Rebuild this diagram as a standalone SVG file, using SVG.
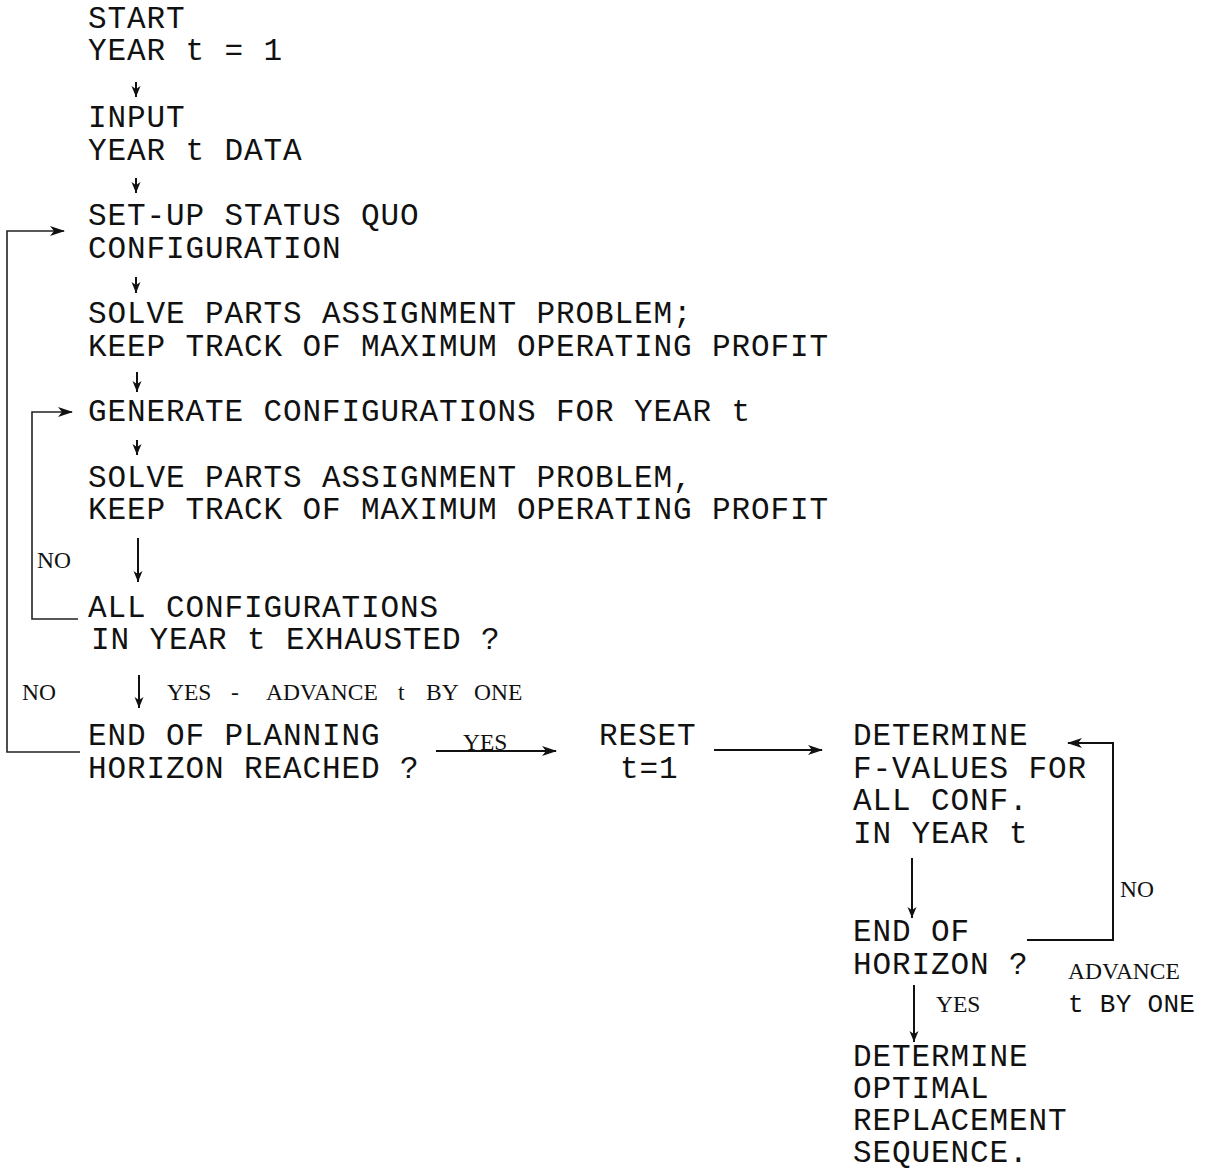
<svg xmlns="http://www.w3.org/2000/svg" width="1209" height="1173" viewBox="0 0 1209 1173">
<defs>
<style>
.m{font-family:"Liberation Mono","Courier New",monospace;font-size:31px;letter-spacing:0.9px;fill:#111}
.ms{font-family:"Liberation Mono","Courier New",monospace;font-size:26px;letter-spacing:0.3px;fill:#111}
.s{font-family:"Liberation Serif","Times New Roman",serif;font-size:23.5px;fill:#111}
.ln{stroke:#111;stroke-width:2;fill:none}
.lnd{stroke:#222;stroke-width:1.6;fill:none}
</style>
<marker id="ah" markerUnits="userSpaceOnUse" markerWidth="16" markerHeight="12" refX="14" refY="6" orient="auto">
<path d="M0,1 L15,6 L0,11 L4,6 z" fill="#111"/>
</marker>
<marker id="ahs" markerUnits="userSpaceOnUse" markerWidth="12" markerHeight="12" refX="11" refY="6" orient="auto">
<path d="M0,1.5 L11,6 L0,10.5 L3,6 z" fill="#111"/>
</marker>
</defs>
<rect width="1209" height="1173" fill="#fff"/>

<g id="start"><text class="m" x="88" y="28">START</text><text class="m" x="88" y="60">YEAR t = 1</text></g>
<g id="input"><text class="m" x="88" y="127">INPUT</text><text class="m" x="88" y="160">YEAR t DATA</text></g>
<g id="statusquo"><text class="m" x="88" y="225">SET-UP STATUS QUO</text><text class="m" x="88" y="258">CONFIGURATION</text></g>
<g id="solve1"><text class="m" x="88" y="323">SOLVE PARTS ASSIGNMENT PROBLEM;</text><text class="m" x="88" y="356">KEEP TRACK OF MAXIMUM OPERATING PROFIT</text></g>
<g id="generate"><text class="m" x="88" y="421">GENERATE CONFIGURATIONS FOR YEAR t</text></g>
<g id="solve2"><text class="m" x="88" y="487">SOLVE PARTS ASSIGNMENT PROBLEM,</text><text class="m" x="88" y="519">KEEP TRACK OF MAXIMUM OPERATING PROFIT</text></g>
<g id="exhausted"><text class="m" x="88" y="617">ALL CONFIGURATIONS</text><text class="m" x="91" y="649">IN YEAR t EXHAUSTED ?</text></g>
<g id="endplanning"><text class="m" x="88" y="745">END OF PLANNING</text><text class="m" x="88" y="778">HORIZON REACHED ?</text></g>
<g id="reset"><text class="m" x="599" y="745">RESET</text><text class="m" x="620" y="778">t=1</text></g>
<g id="fvalues"><text class="m" x="853" y="745">DETERMINE</text><text class="m" x="853" y="778">F-VALUES FOR</text><text class="m" x="853" y="810">ALL CONF.</text><text class="m" x="853" y="843">IN YEAR t</text></g>
<g id="endhorizon"><text class="m" x="853" y="941">END OF</text><text class="m" x="853" y="974">HORIZON ?</text></g>
<g id="optimal"><text class="m" x="853" y="1066">DETERMINE</text><text class="m" x="853" y="1098">OPTIMAL</text><text class="m" x="853" y="1130">REPLACEMENT</text><text class="m" x="853" y="1162">SEQUENCE.</text></g>

<g id="connectors">
<line class="ln" x1="136" y1="82" x2="136" y2="97" marker-end="url(#ahs)"/>
<line class="ln" x1="136" y1="178" x2="136" y2="193" marker-end="url(#ahs)"/>
<line class="ln" x1="136" y1="277" x2="136" y2="293" marker-end="url(#ahs)"/>
<line class="ln" x1="137" y1="372" x2="137" y2="392" marker-end="url(#ahs)"/>
<line class="ln" x1="137" y1="440" x2="137" y2="455" marker-end="url(#ahs)"/>
<line class="ln" x1="138" y1="538" x2="138" y2="582" marker-end="url(#ahs)"/>
<line class="ln" x1="139" y1="675" x2="139" y2="708" marker-end="url(#ahs)"/>
<polyline class="lnd" points="80,752 7,752 7,231 64,231" marker-end="url(#ah)"/>
<polyline class="lnd" points="78,619 32,619 32,412 72,412" marker-end="url(#ah)"/>
<line class="ln" x1="436" y1="751" x2="556" y2="751" marker-end="url(#ah)"/>
<line class="ln" x1="714" y1="750" x2="822" y2="750" marker-end="url(#ah)"/>
<polyline class="ln" points="1027,940 1113,940 1113,743 1068,743" marker-end="url(#ah)"/>
<line class="ln" x1="912" y1="858" x2="912" y2="918" marker-end="url(#ahs)"/>
<line class="ln" x1="914" y1="985" x2="914" y2="1042" marker-end="url(#ahs)"/>
</g>

<g id="labels">
<text class="s" x="37" y="568">NO</text>
<text class="s" x="22" y="700">NO</text>
<text class="s" y="700"><tspan x="167">YES</tspan><tspan x="231">-</tspan><tspan x="266">ADVANCE</tspan><tspan x="398">t</tspan><tspan x="426">BY</tspan><tspan x="474">ONE</tspan></text>
<text class="s" x="463" y="750">YES</text>
<text class="s" x="1120" y="897">NO</text>
<text class="s" x="1068" y="979">ADVANCE</text>
<text class="ms" x="1068" y="1012">t BY ONE</text>
<text class="s" x="936" y="1012">YES</text>
</g>
</svg>
